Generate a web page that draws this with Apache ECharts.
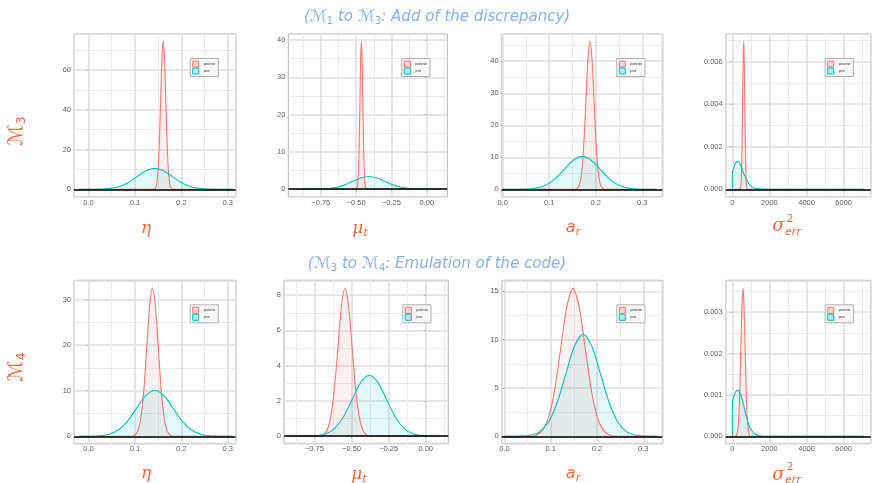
<!DOCTYPE html>
<html>
<head>
<meta charset="utf-8">
<script src="https://cdn.jsdelivr.net/npm/echarts@6/dist/echarts.min.js"></script>
<style>
html,body{margin:0;padding:0;background:#fff}
#main{width:874px;height:483px}
</style>
</head>
<body>
<div id="main"></div>
<script>
// densities, [x, density]
// row 1 : M3
var etaM3Post = [[-0.02,0],[0.138,0],[0.1445,0.8],[0.1473,3.3],[0.150,10.1],[0.1528,24.2],[0.1555,45.2],[0.1583,65.7],[0.161,74.5],[0.1638,65.7],[0.1665,45.2],[0.1693,24.2],[0.172,10.1],[0.1748,3.3],[0.1775,0.8],[0.184,0],[0.31,0]];
var etaM3Prior = [[-0.02,0],[0.010,0.02],[0.029,0.12],[0.048,0.46],[0.067,1.42],[0.086,3.41],[0.105,6.37],[0.124,9.27],[0.143,10.5],[0.162,9.27],[0.181,6.37],[0.200,3.41],[0.219,1.42],[0.238,0.46],[0.257,0.12],[0.276,0.02],[0.31,0]];
var muM3Post = [[-0.93,0],[-0.50,0],[-0.493,0.44],[-0.488,1.74],[-0.483,5.36],[-0.478,12.85],[-0.473,24.0],[-0.468,34.9],[-0.463,39.6],[-0.458,34.9],[-0.453,24.0],[-0.448,12.85],[-0.443,5.36],[-0.438,1.74],[-0.433,0.44],[-0.426,0],[0.1,0]];
var muM3Prior = [[-0.93,0],[-0.82,0.01],[-0.761,0.04],[-0.7025,0.15],[-0.644,0.46],[-0.5855,1.10],[-0.527,2.06],[-0.4685,3.0],[-0.41,3.4],[-0.3515,3.0],[-0.293,2.06],[-0.2345,1.10],[-0.176,0.46],[-0.1175,0.15],[-0.059,0.04],[0.0,0.01],[0.1,0]];
var arM3Post = [[0.0,0],[0.155,0],[0.1618,0.51],[0.1661,2.03],[0.1704,6.27],[0.1747,15.0],[0.179,28.1],[0.1833,40.9],[0.1876,46.3],[0.1919,40.9],[0.1962,28.1],[0.2005,15.0],[0.2048,6.27],[0.2091,2.03],[0.2134,0.51],[0.22,0],[0.33,0]];
var arM3Prior = [[0.0,0],[0.0355,0.02],[0.055,0.11],[0.0742,0.45],[0.0936,1.39],[0.113,3.34],[0.1323,6.25],[0.1516,9.09],[0.171,10.3],[0.1904,9.09],[0.2097,6.25],[0.229,3.34],[0.2484,1.39],[0.2678,0.45],[0.287,0.11],[0.3065,0.02],[0.33,0]];
var sigM3Post = [[0,0],[420,0],[444,0.000077],[472.5,0.000305],[501,0.00094],[529.5,0.00225],[558,0.00422],[586.5,0.00613],[615,0.00695],[643.5,0.00613],[672,0.00422],[700.5,0.00225],[729,0.00094],[757.5,0.000305],[786,0.000077],[810,0],[7100,0]];
var sigM3Prior = [[0,0],[0,0.00072],[100,0.00105],[200,0.00125],[300,0.0013],[400,0.00122],[500,0.00102],[600,0.00078],[700,0.00058],[800,0.0004],[900,0.00026],[1000,0.00016],[1200,0.00006],[1400,0.00002],[1700,0.000005],[2000,0],[7100,0]];
// row 2 : M4
var etaM4Post = [[-0.02,0],[0.095,0],[0.1011,0.36],[0.1073,1.43],[0.1134,4.40],[0.1196,10.5],[0.1257,19.7],[0.1319,28.7],[0.138,32.5],[0.1441,28.7],[0.1503,19.7],[0.1565,10.5],[0.1626,4.40],[0.1688,1.43],[0.1749,0.36],[0.181,0],[0.31,0]];
var etaM4Prior = [[-0.02,0],[0.0048,0.02],[0.0245,0.11],[0.0443,0.44],[0.064,1.37],[0.0838,3.28],[0.1035,6.13],[0.1233,8.91],[0.143,10.1],[0.1628,8.91],[0.1825,6.13],[0.2023,3.28],[0.222,1.37],[0.2418,0.44],[0.2615,0.11],[0.2813,0.02],[0.31,0]];
var muM4Post = [[-0.93,0],[-0.70,0],[-0.6865,0.09],[-0.663,0.37],[-0.639,1.14],[-0.615,2.72],[-0.5915,5.09],[-0.5678,7.40],[-0.544,8.39],[-0.5203,7.40],[-0.4965,5.09],[-0.473,2.72],[-0.449,1.14],[-0.425,0.37],[-0.4015,0.09],[-0.385,0],[0.1,0]];
var muM4Prior = [[-0.93,0],[-0.7835,0.01],[-0.726,0.04],[-0.668,0.15],[-0.6106,0.47],[-0.553,1.12],[-0.4953,2.10],[-0.4377,3.05],[-0.38,3.46],[-0.3223,3.05],[-0.2647,2.10],[-0.207,1.12],[-0.1494,0.47],[-0.092,0.15],[-0.034,0.04],[0.0235,0.01],[0.1,0]];
var arM4Post = [[0.0,0],[0.06,0],[0.07,0.17],[0.083,0.67],[0.096,2.07],[0.109,4.96],[0.1219,9.28],[0.135,13.5],[0.148,15.3],[0.161,13.5],[0.1741,9.28],[0.187,4.96],[0.2,2.07],[0.213,0.67],[0.226,0.17],[0.24,0],[0.33,0]];
var arM4Prior = [[0.0,0],[0.0377,0.02],[0.0566,0.12],[0.0755,0.46],[0.0944,1.43],[0.1133,3.43],[0.1322,6.40],[0.1511,9.32],[0.17,10.56],[0.1889,9.32],[0.2078,6.40],[0.2267,3.43],[0.2456,1.43],[0.2645,0.46],[0.2834,0.12],[0.3023,0.02],[0.33,0]];
var sigM4Post = [[0,0],[220,0],[241,0.00004],[297,0.000157],[353,0.00048],[409,0.00116],[465,0.00217],[521,0.00315],[577,0.00357],[633,0.00315],[689,0.00217],[745,0.00116],[801,0.00048],[857,0.000157],[913,0.00004],[950,0],[7100,0]];
var sigM4Prior = [[0,0],[0,0.00082],[100,0.00098],[200,0.00109],[300,0.00112],[400,0.00107],[500,0.00094],[600,0.00077],[700,0.00058],[800,0.00041],[900,0.00027],[1000,0.00017],[1200,0.00006],[1400,0.00002],[1600,0.000005],[1800,0],[7100,0]];

var muMajor = [-0.75, -0.5, -0.25, 0];
var muMinor = [-0.875, -0.625, -0.375, -0.125, 0.125];
var legendNames = ['posterior', 'prior'];

var postData = [etaM3Post, muM3Post, arM3Post, sigM3Post, etaM4Post, muM4Post, arM4Post, sigM4Post];
var priorData = [etaM3Prior, muM3Prior, arM3Prior, sigM3Prior, etaM4Prior, muM4Prior, arM4Prior, sigM4Prior];
var xKind = ['eta','mu','ar','sig','eta','mu','ar','sig'];

var xRanges = [[-0.031,0.317],[-0.98,0.145],[-0.002,0.343],[-355,7455],[-0.031,0.317],[-0.955,0.152],[-0.006,0.341],[-355,7455]];
var yRanges = [[-3.7,78],[-2.0,41.6],[-2.3,48.5],[-0.00035,0.0073],[-1.53,34.2],[-0.40,8.84],[-0.72,16.15],[-0.00017,0.00377]];

var panels = [
    {left:74, top:34, width:161.7, height:162.7},
    {left:288.3, top:34, width:159, height:162.7},
    {left:501.7, top:34, width:160.6, height:162.7},
    {left:725.7, top:34, width:145, height:162.7},
    {left:74, top:280.3, width:161.7, height:163},
    {left:284, top:280.3, width:164.3, height:163},
    {left:501.7, top:280.3, width:160.6, height:163},
    {left:725.7, top:280.3, width:145, height:163}
];

var POST = '#F8766D', PRIOR = '#00BFC4';
var BLUE = '#86aef5', ORANGE = '#f9663a';
var TICK = '#5e5e5e';

var xFmt = {
    eta: function(v){ return v.toFixed(1); },
    ar: function(v){ return v.toFixed(1); },
    mu: function(v){ return (v < 0 ? '\u2212' : '') + Math.abs(v).toFixed(2); },
    sig: function(v){ return String(Math.round(v)); }
};

var grids = [], xAxes = [], yAxes = [], series = [], legends = [];
var extraX = [];

panels.forEach(function(p, i){
    grids.push({left:p.left, top:p.top, width:p.width, height:p.height, show:true,
        borderColor:'#b3b3b3', borderWidth:1, backgroundColor:'#fff', containLabel:false, outerBoundsMode:'none'});
    var kind = xKind[i];
    var xa = {
        type:'value', gridIndex:i, min:xRanges[i][0], max:xRanges[i][1], splitNumber:4,
        axisLine:{show:false},
        axisTick:{show:true, length:2, lineStyle:{color:'#b3b3b3'}},
        axisLabel:{fontSize:7.5, color:TICK, margin:2, showMinLabel:false, showMaxLabel:false, formatter:xFmt[kind]},
        splitLine:{show:true, lineStyle:{color:'#dedede', width:1.5}},
        minorTick:{show:false, splitNumber:2},
        minorSplitLine:{show:true, lineStyle:{color:'#ebebeb', width:1}}
    };
    if (kind === 'mu') {
        xa.axisTick.customValues = muMajor;
        xa.axisLabel.customValues = muMajor;
        xa.axisLabel.showMinLabel = true;
        xa.axisLabel.showMaxLabel = true;
        xa.minorSplitLine = {show:false};
        extraX.push({
            type:'value', gridIndex:i, min:xRanges[i][0], max:xRanges[i][1], position:'bottom',
            axisLine:{show:false}, axisLabel:{show:false},
            axisTick:{show:false, customValues:muMinor},
            splitLine:{show:true, lineStyle:{color:'#ebebeb', width:1}}
        });
    }
    xAxes.push(xa);
    yAxes.push({
        type:'value', gridIndex:i, min:yRanges[i][0], max:yRanges[i][1], splitNumber:4,
        axisLine:{show:false},
        axisTick:{show:true, length:2, lineStyle:{color:'#b3b3b3'}},
        axisLabel:{fontSize:7.5, color:TICK, margin:3, showMinLabel:false, showMaxLabel:false,
            formatter: kind === 'sig' ? function(v){ return v.toFixed(3); } : null},
        splitLine:{show:true, lineStyle:{color:'#dedede', width:1.5}},
        minorTick:{show:false, splitNumber:2},
        minorSplitLine:{show:true, lineStyle:{color:'#ebebeb', width:1}}
    });
    series.push({
        name:'posterior', type:'line', xAxisIndex:i, yAxisIndex:i, data:postData[i],
        showSymbol:false, symbol:'none', smooth:0.3, silent:true,
        lineStyle:{color:POST, width:1.1}, itemStyle:{color:POST},
        areaStyle:{color:POST, opacity:0.11}
    });
    series.push({
        name:'prior', type:'line', xAxisIndex:i, yAxisIndex:i, data:priorData[i],
        showSymbol:false, symbol:'none', smooth:0.3, silent:true,
        lineStyle:{color:PRIOR, width:1.1}, itemStyle:{color:PRIOR},
        areaStyle:{color:PRIOR, opacity:0.11},
        markLine:{silent:true, symbol:['none','none'], label:{show:false},
            lineStyle:{color:'#000', width:1.5, type:'solid'}, data:[{yAxis:0}]}
    });
    legends.push({
        orient:'vertical', left:p.left + p.width - 45.5, top:p.top + 24.5,
        itemWidth:6, itemHeight:6, itemGap:0, padding:[2,3,2,2], icon:'rect',
        borderColor:'#b0b0b0', borderWidth:1, backgroundColor:'#f7f7f7', selectedMode:false,
        textStyle:{fontSize:3, color:'#333'},
        data:[
            {name:legendNames[0], itemStyle:{color:'rgba(248,118,109,0.25)', borderColor:POST, borderWidth:1}},
            {name:legendNames[1], itemStyle:{color:'rgba(0,191,196,0.25)', borderColor:PRIOR, borderWidth:1}}
        ]
    });
});

// text pieces
function tok(size, fam, style, color, extra) {
    var o = {fontSize:size, fontFamily:fam, fontStyle:style || 'normal', fill:color};
    for (var k in extra) o[k] = extra[k];
    return o;
}
var titleRich = {
    t: tok(15, 'DejaVu Sans', 'italic', BLUE, {lineHeight:22}),
    m: tok(16, 'DejaVu Sans', 'normal', BLUE, {lineHeight:22}),
    s: tok(10, 'DejaVu Sans', 'normal', BLUE, {lineHeight:10, padding:[9,0,0,0]})
};
var rowRich = {
    m: tok(20, 'DejaVu Sans', 'normal', ORANGE, {lineHeight:26}),
    s: tok(13, 'DejaVu Sans', 'normal', ORANGE, {lineHeight:13, padding:[11,0,0,0]})
};
var axRich = {
    g: tok(17, 'DejaVu Serif', 'italic', ORANGE, {lineHeight:22}),
    a: tok(16, 'DejaVu Sans', 'italic', ORANGE, {lineHeight:22}),
    s: tok(11, 'DejaVu Sans', 'italic', ORANGE, {lineHeight:11, padding:[9,0,0,0]})
};
function txt(x, y, text, rich, rot) {
    return {type:'text', x:x, y:y, rotation:rot || 0, z:100, silent:true,
        style:{text:text, rich:rich, align:'center', verticalAlign:'middle'}};
}
function plain(x, y, text, size, fam, style, color) {
    return {type:'text', x:x, y:y, z:100, silent:true,
        style:{text:text, fontSize:size, fontFamily:fam, fontStyle:style, fill:color, align:'center', verticalAlign:'middle'}};
}

var graphics = [
    txt(437, 17, '{t|(}{m|\u2133}{s|1}{t| to }{m|\u2133}{s|3}{t|: Add of the discrepancy)}', titleRich),
    txt(437, 264, '{t|(}{m|\u2133}{s|3}{t| to }{m|\u2133}{s|4}{t|: Emulation of the code)}', titleRich),
    txt(16.5, 131, '{m|\u2133}{s|3}', rowRich, Math.PI / 2),
    txt(16.5, 367, '{m|\u2133}{s|4}', rowRich, Math.PI / 2),
    txt(146, 229, '{g|\u03b7}', axRich),
    txt(360, 229, '{g|\u03bc}{s|t}', axRich),
    txt(573, 228, '{a|a}{s|r}', axRich),
    plain(778.5, 226.5, '\u03c3', 18, 'DejaVu Serif', 'italic', ORANGE),
    plain(790, 219.5, '2', 11, 'DejaVu Sans', 'normal', ORANGE),
    plain(793, 232, 'err', 11, 'DejaVu Sans', 'italic', ORANGE),
    txt(146, 474, '{g|\u03b7}', axRich),
    txt(359, 475, '{g|\u03bc}{s|t}', axRich),
    txt(573, 474, '{a|a}{s|r}', axRich),
    plain(778.5, 475.8, '\u03c3', 18, 'DejaVu Serif', 'italic', ORANGE),
    plain(790, 467.5, '2', 11, 'DejaVu Sans', 'normal', ORANGE),
    plain(793, 480.5, 'err', 11, 'DejaVu Sans', 'italic', ORANGE)
];

var myChart = echarts.init(document.getElementById('main'));
myChart.setOption({
    animation:false,
    backgroundColor:'#fff',
    grid:grids,
    xAxis:xAxes.concat(extraX),
    yAxis:yAxes,
    legend:legends,
    series:series,
    graphic:graphics
});
window.addEventListener('resize', function(){ myChart.resize(); });
</script>
</body>
</html>
